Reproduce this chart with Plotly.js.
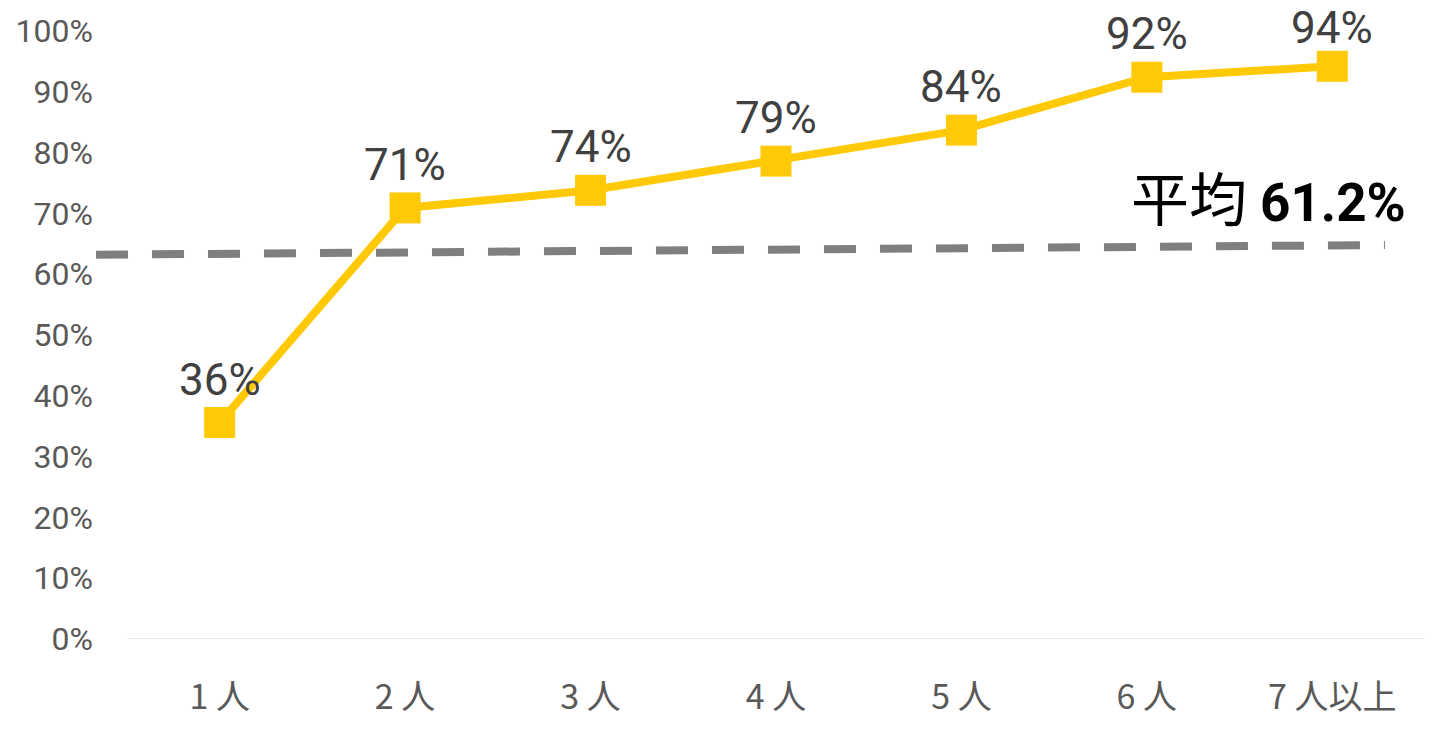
<!DOCTYPE html>
<html>
<head>
<meta charset="utf-8">
<script src="https://cdn.plot.ly/plotly-3.0.1.min.js"></script>
<style>html,body{margin:0;padding:0;background:#fff;}#chart{width:1432px;height:730px;}</style>
</head>
<body>
<div id="chart"></div>
<script>
// Data
const categories = ["1 人", "2 人", "3 人", "4 人", "5 人", "6 人", "7 人以上"];
const rates = [35.6, 70.9, 73.8, 78.6, 83.7, 92.4, 94.2];
const rateLabels = ["36%", "71%", "74%", "79%", "84%", "92%", "94%"];
const avgLineX = [-0.667, 6.284];
const avgLineY = [63.2, 64.8];
const baselineX = [-0.5, 6.5];
const baselineY = [0, 0];
const yTickVals = [0, 10, 20, 30, 40, 50, 60, 70, 80, 90, 100];
const yTickText = ["0%", "10%", "20%", "30%", "40%", "50%", "60%", "70%", "80%", "90%", "100%"];
const avgText = '平均 <span style="font-family:Roboto;font-weight:bold;font-size:53px">61.2%</span>';

const idx = categories.map((c, i) => i);

const traces = [
  {
    x: baselineX, y: baselineY, mode: "lines", type: "scatter",
    line: {color: "#d9d9d9", width: 1}, hoverinfo: "skip", showlegend: false
  },
  {
    x: avgLineX, y: avgLineY, mode: "lines", type: "scatter",
    line: {color: "#7f7f7f", width: 8, dash: "32px,24px"}, hoverinfo: "skip", showlegend: false
  },
  {
    x: idx, y: rates, mode: "lines+markers", type: "scatter",
    line: {color: "#FFC905", width: 8},
    marker: {symbol: "square", size: 31, color: "#FFC905", line: {width: 0}},
    cliponaxis: false, showlegend: false
  }
];

const labelAnnotations = idx.map(i => ({
  x: i, y: rates[i], xref: "x", yref: "y",
  text: rateLabels[i], showarrow: false,
  xanchor: "center", yanchor: "middle", yshift: i === 6 ? 38 : 43,
  font: {family: "Roboto, sans-serif", size: 44, color: "#404040"}
}));

const layout = {
  width: 1432, height: 730,
  margin: {l: 96, r: 7, t: 31, b: 91},
  paper_bgcolor: "#ffffff", plot_bgcolor: "#ffffff",
  showlegend: false,
  xaxis: {
    range: [-0.667, 6.5], tickmode: "array", tickvals: idx, ticktext: categories,
    showgrid: false, zeroline: false, showline: false, ticks: "",
    tickfont: {family: "Noto Sans CJK JP, sans-serif", size: 34, color: "#595959"},
    ticklabelstandoff: 35, fixedrange: true
  },
  yaxis: {
    range: [0, 100], tickmode: "array", tickvals: yTickVals, ticktext: yTickText,
    showgrid: false, zeroline: false, showline: false, ticks: "",
    tickfont: {family: "Roboto, sans-serif", size: 32, color: "#595959"},
    ticklabelstandoff: 2, fixedrange: true
  },
  annotations: labelAnnotations.concat([
    {
      x: 6.41, y: 72.8, xref: "x", yref: "y", xanchor: "right", yanchor: "middle",
      text: avgText, showarrow: false,
      font: {family: "Noto Sans CJK JP, sans-serif", size: 58, color: "#000000"}
    }
  ])
};

Plotly.newPlot("chart", traces, layout, {displayModeBar: false, staticPlot: true});
</script>
</body>
</html>
